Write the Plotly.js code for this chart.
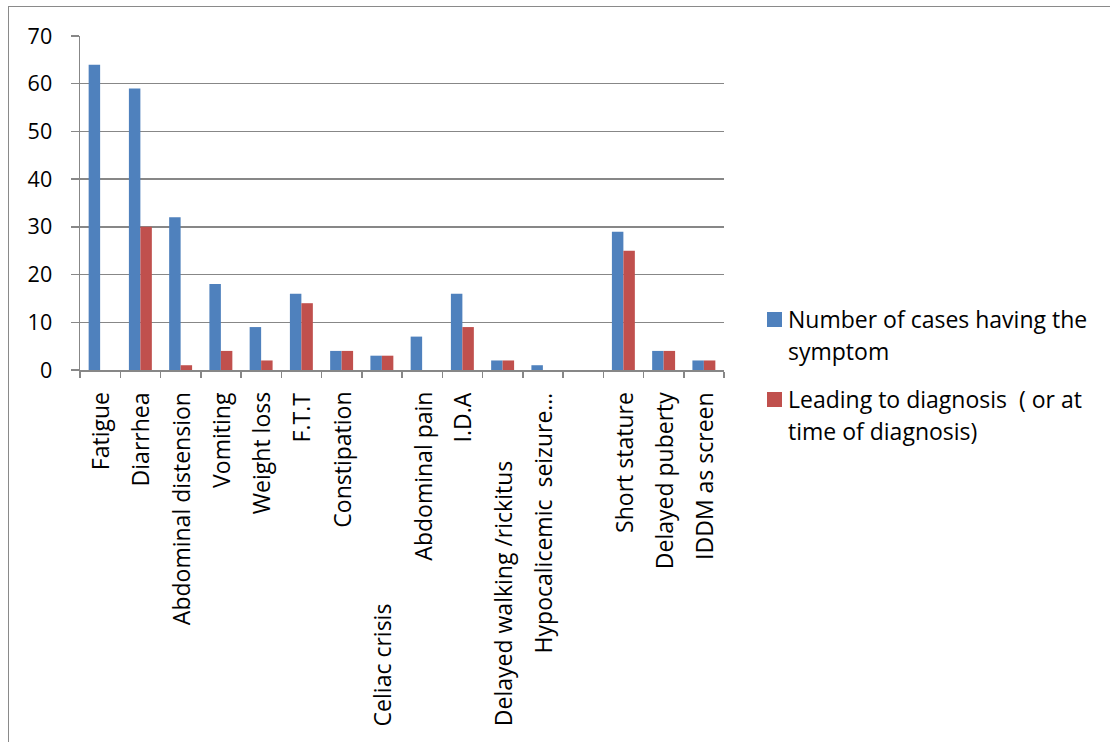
<!DOCTYPE html>
<html>
<head>
<meta charset="utf-8">
<script src="https://cdn.plot.ly/plotly-3.0.1.min.js"></script>
<style>
  html, body { margin: 0; padding: 0; background: #fff; }
  #wrap { position: relative; width: 1110px; height: 742px; overflow: hidden; }
  #chart { position: absolute; left: 0; top: 0; width: 1110px; height: 742px; }
  #frame { position: absolute; left: 8px; top: 6px; width: 1200px; height: 800px;
           border-left: 1.5px solid #8a8a8a; border-top: 1.5px solid #8a8a8a;
           pointer-events: none; z-index: 10; }
</style>
</head>
<body>
<div id="wrap">
  <div id="chart"></div>
  <div id="frame"></div>
</div>
<script>
// ---- data ----
const categories = [
  "Fatigue", "Diarrhea", "Abdominal distension", "Vomiting", "Weight loss",
  "F.T.T", "Constipation", "Celiac crisis", "Abdominal pain", "I.D.A",
  "Delayed walking /rickitus", "Hypocalicemic  seizure…", " ",
  "Short stature", "Delayed puberty", "IDDM as screen"
];
const casesWithSymptom = [64, 59, 32, 18, 9, 16, 4, 3, 7, 16, 2, 1, 0, 29, 4, 2];
const leadingToDiagnosis = [0, 30, 1, 4, 2, 14, 4, 3, 0, 9, 2, 0, 0, 25, 4, 2];
const seriesNames = [
  "Number of cases having the<br>symptom",
  "Leading to diagnosis  ( or at<br>time of diagnosis)"
];
const yTickValues = [0, 10, 20, 30, 40, 50, 60, 70];
// labels that Excel pushed to the bottom of the label area
const bottomLabels = ["Celiac crisis", "Delayed walking /rickitus"];

// ---- style ----
const colors = ["#4F81BD", "#C0504D"];
const FONT = "Open Sans, sans-serif";
const gridColor = "#878787";

const traces = [
  { type: "bar", x: categories, y: casesWithSymptom, name: seriesNames[0],
    marker: { color: colors[0] }, hoverinfo: "x+y" },
  { type: "bar", x: categories, y: leadingToDiagnosis, name: seriesNames[1],
    marker: { color: colors[1] }, hoverinfo: "x+y" }
];

const annotations = [];
categories.forEach(function (c) {
  const isBottom = bottomLabels.indexOf(c) >= 0;
  annotations.push({
    x: c, xref: "x", y: 0, yref: "y",
    text: c, showarrow: false, textangle: -90,
    xanchor: "center", yanchor: isBottom ? "bottom" : "top",
    yshift: isBottom ? -357 : -21, borderpad: 0,
    font: { family: FONT, size: 23, color: "#000" }
  });
});

// custom legend (Excel style)
const shapes = [];
const legendTop = [312, 392]; // pixel tops of the squares
const plotTop = 36, plotBottom = 370, plotLeft = 80, plotRight = 724;
function py(p) { return (plotBottom - p) / (plotBottom - plotTop); }
function px(p) { return (p - plotLeft) / (plotRight - plotLeft); }
seriesNames.forEach(function (n, i) {
  shapes.push({
    type: "rect", xref: "paper", yref: "paper",
    x0: px(767), x1: px(782), y0: py(legendTop[i] + 15), y1: py(legendTop[i]),
    fillcolor: colors[i], line: { width: 0 }
  });
  n.split("<br>").forEach(function (line, j) {
    annotations.push({
      xref: "paper", yref: "paper", x: px(787), y: py(legendTop[i] + 7 + j * 32),
      xanchor: "left", yanchor: "middle", showarrow: false, text: line,
      borderpad: 0, font: { family: FONT, size: 23, color: "#000" }
    });
  });
});

const layout = {
  width: 1110, height: 742,
  margin: { l: plotLeft, r: 1110 - plotRight, t: plotTop, b: 742 - plotBottom, pad: 0 },
  paper_bgcolor: "#fff", plot_bgcolor: "#fff",
  showlegend: false,
  barmode: "group", bargap: 0.43, bargroupgap: 0,
  font: { family: FONT, size: 22, color: "#000" },
  xaxis: {
    type: "category", showgrid: false, showticklabels: false,
    ticks: "outside", tickson: "boundaries", ticklen: 6, tickcolor: gridColor, tickwidth: 1.5,
    showline: true, linecolor: gridColor, linewidth: 1.5, zeroline: false,
    fixedrange: true
  },
  yaxis: {
    range: [0, 70], tickvals: yTickValues, ticktext: yTickValues.map(String),
    showgrid: true, gridcolor: gridColor, gridwidth: 1.5,
    ticks: "outside", ticklen: 8, tickcolor: gridColor, tickwidth: 1.5,
    showline: true, linecolor: gridColor, linewidth: 1.5, zeroline: false,
    tickfont: { family: FONT, size: 21.5, color: "#000" },
    ticklabelstandoff: 14, fixedrange: true
  },
  annotations: annotations,
  shapes: shapes
};

Plotly.newPlot("chart", traces, layout, { displayModeBar: false, staticPlot: true });
</script>
</body>
</html>
